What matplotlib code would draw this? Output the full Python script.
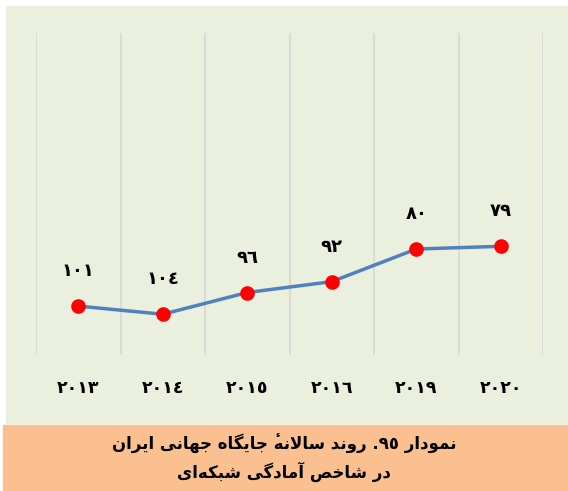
import matplotlib
matplotlib.use("Agg")
import numpy as np
import matplotlib.pyplot as plt
from matplotlib.patches import Rectangle
from matplotlib.font_manager import FontProperties

# yearly world rank of Iran in the Network Readiness Index
years = ["٢٠١٣", "٢٠١٤", "٢٠١٥", "٢٠١٦", "٢٠١٩", "٢٠٢٠"]
ranks = [101, 104, 96, 92, 80, 79]
title_lines = [
    "نمودار ٩٥. روند سالانۀ جایگاه جهانی ایران",
    "در شاخص آمادگی شبکه‌ای",
]

# matplotlib has no arabic shaping, so pick presentation forms by hand
# (isolated, final, initial, medial)
HEH = ("\uFEE9", "\uFEEA", "\uFEEB", "\uFEEC")
FORMS = {
    "ا": ("\uFE8D", "\uFE8E"),
    "آ": ("\uFE81", "\uFE82"),
    "ب": ("\uFE8F", "\uFE90", "\uFE91", "\uFE92"),
    "ج": ("\uFE9D", "\uFE9E", "\uFE9F", "\uFEA0"),
    "خ": ("\uFEA5", "\uFEA6", "\uFEA7", "\uFEA8"),
    "د": ("\uFEA9", "\uFEAA"),
    "ر": ("\uFEAD", "\uFEAE"),
    "س": ("\uFEB1", "\uFEB2", "\uFEB3", "\uFEB4"),
    "ش": ("\uFEB5", "\uFEB6", "\uFEB7", "\uFEB8"),
    "ص": ("\uFEB9", "\uFEBA", "\uFEBB", "\uFEBC"),
    "ل": ("\uFEDD", "\uFEDE", "\uFEDF", "\uFEE0"),
    "م": ("\uFEE1", "\uFEE2", "\uFEE3", "\uFEE4"),
    "ن": ("\uFEE5", "\uFEE6", "\uFEE7", "\uFEE8"),
    "ه": HEH,
    "\u06C0": HEH[:2],  # heh with hamza: drawn as heh, hamza added on top
    "و": ("\uFEED", "\uFEEE"),
    "\u06CC": ("\uFEEF", "\uFEF0", "\uFEF3", "\uFEF4"),
    "\u064A": ("\uFEEF", "\uFEF0", "\uFEF3", "\uFEF4"),
    "\u06A9": ("\uFB8E", "\uFB8F", "\uFB90", "\uFB91"),
    "\u0643": ("\uFB8E", "\uFB8F", "\uFB90", "\uFB91"),
    "گ": ("\uFB92", "\uFB93", "\uFB94", "\uFB95"),
}
LAM_ALEF = {"ا": ("\uFEFB", "\uFEFC"), "آ": ("\uFEF5", "\uFEF6")}


def shape_rtl(text):
    """Return the visual string and the indices that need a hamza above."""
    glyphs = []
    i = 0
    while i < len(text):
        c = text[i]
        if c == "\u200c":
            pass
        elif c in FORMS:
            prev = text[i - 1] if i > 0 else None
            joins_prev = prev in FORMS and len(FORMS[prev]) == 4
            nxt = text[i + 1] if i + 1 < len(text) else None
            if c == "ل" and nxt in LAM_ALEF:
                glyphs.append((LAM_ALEF[nxt][int(joins_prev)], False))
                i += 1
            else:
                forms = FORMS[c]
                joins_next = len(forms) == 4 and nxt in FORMS
                if joins_prev and joins_next:
                    g = forms[3]
                elif joins_prev:
                    g = forms[1]
                elif joins_next:
                    g = forms[2]
                else:
                    g = forms[0]
                glyphs.append((g, c == "\u06C0"))
        else:
            glyphs.append((c, False))
        i += 1

    # visual order: right to left, but digit runs stay left to right
    glyphs.reverse()
    out, run = [], []
    for g in glyphs:
        if g[0].isdigit():
            run.append(g)
        else:
            out.extend(reversed(run))
            run = []
            out.append(g)
    out.extend(reversed(run))
    return "".join(g for g, _ in out), [k for k, (_, h) in enumerate(out) if h]


def to_arabic_digits(n):
    return str(n).translate(str.maketrans("0123456789", "٠١٢٣٤٥٦٧٨٩"))


W, H = 568, 491
fig = plt.figure(figsize=(W / 100, H / 100), dpi=100)
plt.rcParams["font.family"] = ["DejaVu Sans"]

fig.patches.append(Rectangle((6 / W, (H - 423) / H), 562 / W, 417 / H,
                             transform=fig.transFigure, color="#EBF0DE", zorder=-2))
fig.patches.append(Rectangle((3 / W, 0), 565 / W, 66 / H,
                             transform=fig.transFigure, color="#FAC090", zorder=-2))

ax = fig.add_axes([36 / W, 1 - 355 / H, 507 / W, 322 / H])
ax.set_facecolor("none")
for s in ax.spines.values():
    s.set_visible(False)

x = np.arange(len(years))
ax.plot(x, ranks, color="#4F81BD", lw=2.5, zorder=3)
ax.plot(x, ranks, "o", color="#FF0000", ms=9.5, zorder=4)
for xi, r in zip(x, ranks):
    ax.annotate(to_arabic_digits(r), (xi, r), xytext=(0, 35),
                textcoords="offset pixels", ha="center", va="center",
                fontsize=13, fontweight="bold", color="black")

ax.set_xlim(-0.5, len(years) - 0.5)
ax.set_ylim(119, 0.5)
ax.set_yticks([])
ax.set_xticks(x)
ax.set_xticklabels(years, fontsize=12.5, fontweight="bold")
ax.set_xticks(np.arange(-0.5, len(years)), minor=True)
ax.tick_params(axis="x", which="both", length=0, pad=17)
ax.grid(True, which="minor", axis="x", color="#D9D9D9", lw=1.3)

# caption, with the hamza of heh placed by measuring the drawn prefix
title_font = FontProperties(family="DejaVu Sans", weight="bold", size=12)
renderer = fig.canvas.get_renderer()
cx = 284
for line, ypx in zip(title_lines, [443, 472]):
    s, hamzas = shape_rtl(line)
    fig.text(cx / W, 1 - ypx / H, s, ha="center", va="center",
             fontproperties=title_font, color="black")
    full_w = renderer.get_text_width_height_descent(s, title_font, ismath=False)[0]
    left = cx - full_w / 2
    for k in hamzas:
        w0 = renderer.get_text_width_height_descent(s[:k], title_font, ismath=False)[0]
        w1 = renderer.get_text_width_height_descent(s[:k + 1], title_font, ismath=False)[0]
        hx = left + w0 + 0.4 * (w1 - w0)
        fig.text(hx / W, 1 - (ypx - 9) / H, "\u0621", ha="center", va="center",
                 fontsize=6.5, fontweight="bold", color="black")

fig.savefig("out.png", dpi=100)
